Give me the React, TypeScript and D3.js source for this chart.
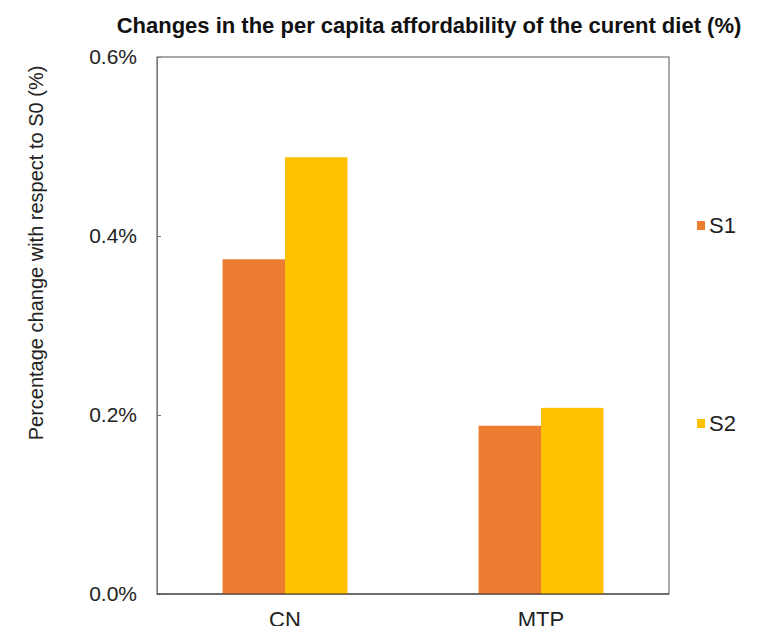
import { useEffect, useRef } from "react";
import * as d3 from "d3";

const categories = ["CN", "MTP"];
const seriesNames = ["S1", "S2"];
const s1Values = [0.374, 0.188];
const s2Values = [0.488, 0.208];
const yTicks = [0, 0.2, 0.4, 0.6];
const colors = ["#ED7D31", "#FFC000"];

export default function App() {
  const svgRef = useRef(null);

  useEffect(() => {
    const svg = d3.select(svgRef.current);
    svg.selectAll("*").remove();

    const width = 769;
    const height = 634;
    const margin = { top: 57, right: 100, bottom: 40, left: 157 };
    const innerWidth = width - margin.left - margin.right;
    const innerHeight = height - margin.top - margin.bottom;
    const font = "'Liberation Sans', Arial, sans-serif";

    svg.attr("width", width).attr("height", height).style("display", "block");
    svg.append("rect").attr("width", width).attr("height", height).attr("fill", "white");

    const chart = svg
      .append("g")
      .attr("transform", `translate(${margin.left}, ${margin.top})`);

    const x0 = d3.scaleBand().domain(categories).range([0, innerWidth]);
    const x1 = d3
      .scaleBand()
      .domain(seriesNames)
      .range([0, x0.bandwidth()])
      .paddingInner(0)
      .paddingOuter(1.05);
    const y = d3.scaleLinear().domain([0, 0.6]).range([innerHeight, 0]);

    const rows = categories.map((c, i) => ({
      cat: c,
      vals: [s1Values[i], s2Values[i]],
    }));

    // frame
    chart
      .append("rect")
      .attr("width", innerWidth)
      .attr("height", innerHeight)
      .attr("fill", "none")
      .attr("stroke", "#555")
      .attr("stroke-width", 1);

    chart
      .selectAll("g.group")
      .data(rows)
      .enter()
      .append("g")
      .attr("class", "group")
      .attr("transform", (d) => `translate(${x0(d.cat)}, 0)`)
      .selectAll("rect")
      .data((d) => d.vals.map((v, j) => ({ key: seriesNames[j], v, j })))
      .enter()
      .append("rect")
      .attr("x", (d) => x1(d.key))
      .attr("width", x1.bandwidth())
      .attr("y", (d) => y(d.v))
      .attr("height", (d) => innerHeight - y(d.v))
      .attr("fill", (d) => colors[d.j]);

    // y axis
    const yAxis = d3
      .axisLeft(y)
      .tickValues(yTicks)
      .tickSize(-4)
      .tickPadding(20)
      .tickFormat((d) => d3.format(".1f")(d) + "%");

    chart
      .append("g")
      .call(yAxis)
      .call((g) => g.select(".domain").attr("stroke", "#777"))
      .call((g) => g.selectAll("line").attr("stroke", "#777"))
      .call((g) =>
        g
          .selectAll("text")
          .attr("fill", "#222")
          .attr("font-size", 21)
          .attr("font-family", font)
      );

    // x axis
    chart
      .append("line")
      .attr("x1", 0)
      .attr("x2", innerWidth)
      .attr("y1", innerHeight)
      .attr("y2", innerHeight)
      .attr("stroke", "#333");

    chart
      .selectAll("text.xlabel")
      .data(categories)
      .enter()
      .append("text")
      .attr("class", "xlabel")
      .attr("x", (d) => x0(d) + x0.bandwidth() / 2)
      .attr("y", innerHeight + 33)
      .attr("text-anchor", "middle")
      .attr("font-size", 22)
      .attr("font-family", font)
      .attr("fill", "#222")
      .text((d) => d);

    svg
      .append("text")
      .attr("x", 429)
      .attr("y", 33)
      .attr("text-anchor", "middle")
      .attr("font-size", 22)
      .attr("font-weight", "bold")
      .attr("font-family", font)
      .attr("fill", "#111")
      .text("Changes in the per capita affordability of the curent diet (%)");

    svg
      .append("text")
      .attr("transform", `translate(43, ${253}) rotate(-90)`)
      .attr("text-anchor", "middle")
      .attr("font-size", 20)
      .attr("font-family", font)
      .attr("fill", "#222")
      .text("Percentage change with respect to S0 (%)");

    const legendY = [225, 423];
    const legend = svg
      .append("g")
      .selectAll("g")
      .data(seriesNames)
      .enter()
      .append("g")
      .attr("transform", (_, i) => `translate(697, ${legendY[i]})`);

    legend
      .append("rect")
      .attr("x", 0)
      .attr("y", -4)
      .attr("width", 8)
      .attr("height", 9)
      .attr("fill", (_, i) => colors[i]);

    legend
      .append("text")
      .attr("x", 12)
      .attr("y", 8)
      .attr("font-size", 22)
      .attr("font-family", font)
      .attr("fill", "#222")
      .text((d) => d);
  }, []);

  return (
    <div style={{ margin: -8 }}>
      <svg ref={svgRef}></svg>
    </div>
  );
}
